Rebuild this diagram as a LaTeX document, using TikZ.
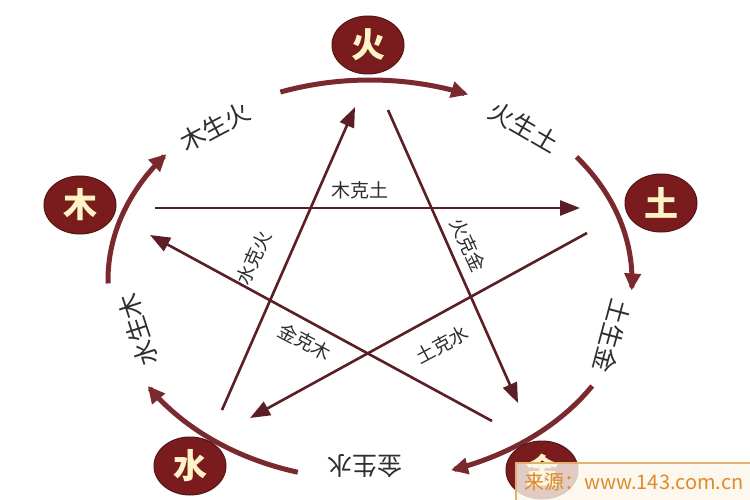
\documentclass[tikz,border=0pt]{standalone}
\usepackage{fontspec}
\newfontfamily\cjk{Noto Sans CJK SC}
\usetikzlibrary{arrows.meta,shapes.geometric}
\definecolor{maroon}{HTML}{7A1C1E}
\definecolor{arcc}{HTML}{7A2A2E}
\definecolor{linec}{HTML}{5A1E24}
\definecolor{cream}{HTML}{FFF3C8}
\definecolor{txt}{HTML}{2E2E2E}
\tikzset{
  elem/.style={ellipse,fill=maroon,draw=maroon!70!black,line width=1pt,minimum width=72pt,minimum height=58pt,inner sep=0pt,text=cream,font=\cjk\fontsize{34}{34}\selectfont\bfseries},
  ring/.style={arcc,line width=5pt,-{Triangle[length=17pt,width=16pt]}},
  ke/.style={linec,line width=2.6pt,-{Triangle[length=20pt,width=15pt]}},
  shengl/.style={txt,font=\cjk\fontsize{25}{25}\selectfont,inner sep=1pt},
  kel/.style={txt,font=\cjk\fontsize{19}{19}\selectfont,inner sep=1pt}
}
\begin{document}
\begin{tikzpicture}[x=1pt,y=-1pt]
\useasboundingbox[fill=white] (0,0) rectangle (750,500);
% ring arcs
\foreach \a/\b in {110/68, 38/-3, -32/-72, -106/-148, 181/141}{
  \draw[ring] plot[domain=\a:\b,samples=40,smooth] ({370+262*cos(\x)},{280-200*sin(\x)});
}
% elements
\node[elem] (huo) at (368,45) {火};
\node[elem] (tu) at (661,203) {土};
\node[elem] (mu) at (80,205) {木};
\node[elem] (shui) at (190,466) {水};
\node[elem] (jin) at (542,470) {金};
% sheng labels
\node[shengl,rotate=28] (l1) at (215,127) {木生火};
\node[shengl,rotate=-30] (l2) at (524,127) {火生土};
\node[shengl,rotate=-105] (l3) at (612,336) {土生金};
\node[shengl,rotate=180] (l4) at (365,466) {金生水};
\node[shengl,rotate=108] (l5) at (138,330) {水生木};
% ke lines
\coordinate (a1) at (155,208); \coordinate (b1) at (580,208);
\coordinate (a2) at (587,233); \coordinate (b2) at (250,418);
\coordinate (a3) at (222,410); \coordinate (b3) at (355,107);
\coordinate (a4) at (388,110); \coordinate (b4) at (518,403);
\coordinate (a5) at (492,421); \coordinate (b5) at (150,235);
\draw[ke] (a1) -- (b1);
\draw[ke] (a2) -- (b2);
\draw[ke] (a3) -- (b3);
\draw[ke] (a4) -- (b4);
\draw[ke] (a5) -- (b5);
\node[kel] (k1) at (360,190) {木克土};
\node[kel,rotate=66] (k2) at (254,258) {水克火};
\node[kel,rotate=-65] (k3) at (468,245) {火克金};
\node[kel,rotate=-28] (k4) at (305,342) {金克木};
\node[kel,rotate=28] (k5) at (442,345) {土克水};
% watermark
\node[draw={rgb,255:red,226;green,176;blue,112},line width=1.5pt,fill={rgb,255:red,253;green,247;blue,236},fill opacity=0.8,text opacity=1,minimum width=236pt,minimum height=38pt,anchor=north west,inner sep=0pt,text={rgb,255:red,222;green,140;blue,40},font=\cjk\fontsize{20}{20}\selectfont] (wm) at (515,462) {来源：www.143.com.cn};
\end{tikzpicture}
\end{document}
